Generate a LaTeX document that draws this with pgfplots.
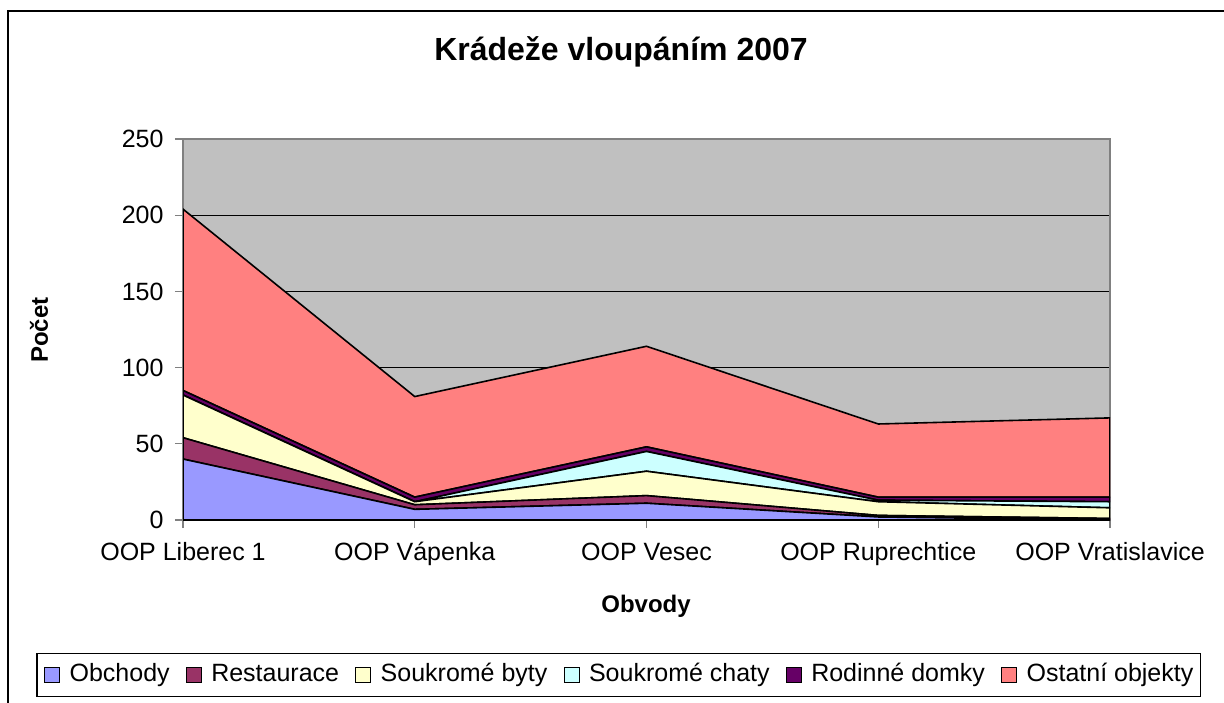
\documentclass[border=0pt]{standalone}
\usepackage{fontspec}
\setmainfont{Liberation Sans}
\usepackage{pgfplots}
\pgfplotsset{compat=1.18}
\definecolor{cObch}{HTML}{9999FF}
\definecolor{cRest}{HTML}{993366}
\definecolor{cByty}{HTML}{FFFFCC}
\definecolor{cChat}{HTML}{CCFFFF}
\definecolor{cRod}{HTML}{660066}
\definecolor{cOst}{HTML}{FF8080}
\definecolor{cBg}{HTML}{C0C0C0}
\definecolor{cFrame}{HTML}{808080}
\begin{document}
\begin{tikzpicture}[x=1pt,y=1pt]
\useasboundingbox (0,0) rectangle (1224,702);
\fill[white] (0,0) rectangle (1224,702);
\draw[line width=2pt] (8,-20) -- (8,691) -- (1240,691);
\node[font=\bfseries\fontsize{32}{36}\selectfont] at (621,650) {Krádeže vloupáním 2007};
\node[font=\bfseries\fontsize{24}{28}\selectfont, rotate=90] at (39,372) {Počet};
\node[font=\bfseries\fontsize{24}{28}\selectfont] at (646,96) {Obvody};
\begin{axis}[
  at={(183pt,182pt)}, anchor=south west, scale only axis,
  width=927pt, height=381pt,
  xmin=0, xmax=4, ymin=0, ymax=250,
  xtick={0,1,2,3,4},
  xticklabels={OOP Liberec 1, OOP Vápenka, OOP Vesec, OOP Ruprechtice, OOP Vratislavice},
  ytick={0,50,100,150,200,250},
  xtick pos=bottom, ytick pos=left,
  ymajorgrids, grid style={black, line width=1pt},
  axis background/.style={fill=cBg},
  axis line style={draw=cFrame, line width=1.5pt},
  tick align=outside, major tick length=8pt,
  tick style={cFrame, line width=1.2pt},
  ticklabel style={font=\fontsize{25}{29}\selectfont},
  xticklabel style={text height=18pt, text depth=5pt, yshift=-11pt},
  yticklabel style={xshift=-8pt},
  /pgf/number format/assume math mode=true,
  stack plots=y,
  every axis plot/.append style={draw=black, line width=1.6pt},
  legend image code/.code={\draw[#1, line width=1pt] (0pt,-7.5pt) rectangle (15pt,7.5pt); \path (-2pt,0pt) (22pt,0pt);},
  legend columns=6,
  legend style={at={(0.470,-0.407)}, anchor=center, draw=black, line width=1.5pt,
    inner xsep=5pt, inner ysep=8pt,
    font=\fontsize{25}{29}\selectfont,
    nodes={text height=18pt, text depth=5pt},
    /tikz/every even column/.append style={column sep=12pt}},
]
\addplot[fill=cObch] coordinates {(0,40) (1,7) (2,11) (3,2) (4,0)} \closedcycle;
\addlegendentry{Obchody}
\addplot[fill=cRest] coordinates {(0,14) (1,3) (2,5) (3,1) (4,1)} \closedcycle;
\addlegendentry{Restaurace}
\addplot[fill=cByty] coordinates {(0,28) (1,2) (2,16) (3,9) (4,7)} \closedcycle;
\addlegendentry{Soukromé byty}
\addplot[fill=cChat] coordinates {(0,0) (1,0) (2,13) (3,1) (4,4)} \closedcycle;
\addlegendentry{Soukromé chaty}
\addplot[fill=cRod] coordinates {(0,3) (1,3) (2,3) (3,2) (4,3)} \closedcycle;
\addlegendentry{Rodinné domky}
\addplot[fill=cOst] coordinates {(0,119) (1,66) (2,66) (3,48) (4,52)} \closedcycle;
\addlegendentry{Ostatní objekty}
\end{axis}
\end{tikzpicture}
\end{document}
